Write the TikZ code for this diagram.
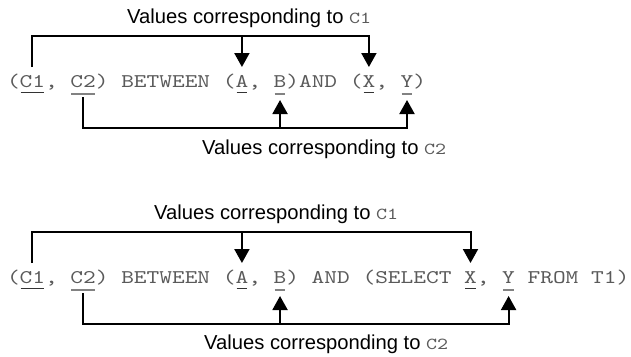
\documentclass[tikz,border=0pt]{standalone}
\usepackage{fontspec}
\setmainfont{Liberation Sans}
\newfontfamily\codefont[FakeStretch=1.25]{lmmono10-regular.otf}
\usetikzlibrary{arrows.meta}
\definecolor{codegray}{RGB}{90,90,90}
\definecolor{ulgray}{RGB}{130,130,130}
\newcommand{\codesize}{\codefont\fontsize{19.35}{22}\selectfont}
\newcommand{\lblcode}[1]{{\codefont\fontsize{16.8}{19}\selectfont\color{codegray}#1}}
% one monospaced blank cell that survives at the end of a node
\newcommand{\cell}{\phantom{x}}

\begin{document}
\begin{tikzpicture}[x=1pt,y=-1pt,
  code/.style={font=\codesize, text=codegray, inner sep=0pt, outer sep=0pt, anchor=base west},
  lbl/.style={font=\fontsize{20.2}{24}\selectfont, inner sep=0pt, anchor=base west},
  arr/.style={line width=2pt, -{Triangle[length=14pt,width=15pt]}},
  thinul/.style={line width=1pt, draw=black!80},
  thickul/.style={line width=2pt, draw=ulgray}]
\useasboundingbox (0,0) rectangle (631,356);

% ---------- first predicate ----------
\node[code] (p1o) at (7,87) {(};
\node[code] (p1c1) at (p1o.base east) {C1};
\node[code] (p1s1) at (p1c1.base east) {,\cell};
\node[code] (p1c2) at (p1s1.base east) {C2};
\node[code] (p1s2) at (p1c2.base east) {)~BETWEEN~(};
\node[code] (p1a) at (p1s2.base east) {A};
\node[code] (p1s3) at (p1a.base east) {,\cell};
\node[code] (p1b) at (p1s3.base east) {B};
\node[code] (p1s4) at (p1b.base east) {)AND~(};
\node[code] (p1x) at (p1s4.base east) {X};
\node[code] (p1s5) at (p1x.base east) {,\cell};
\node[code] (p1y) at (p1s5.base east) {Y};
\node[code] (p1s6) at (p1y.base east) {)};

\foreach \n in {p1c1,p1a,p1x}
  \draw[thinul] ([xshift=1pt,yshift=-5.7pt]\n.base west) -- ([xshift=-1pt,yshift=-5.7pt]\n.base east);
\foreach \n in {p1c2,p1b,p1y}
  \draw[thickul] ([xshift=1pt,yshift=-7pt]\n.base west) -- ([xshift=-1pt,yshift=-7pt]\n.base east);

\coordinate (bar1t) at (0,35.7);
\coordinate (bar1b) at (0,127.7);

\draw[arr] ([yshift=20pt]p1c1.base) -- (p1c1.base |- bar1t) -| ([yshift=20pt]p1x.base);
\draw[arr] (p1a.base |- bar1t) -- ([yshift=20pt]p1a.base);
\draw[arr] ([yshift=-10pt]p1c2.base) -- (p1c2.base |- bar1b) -| ([yshift=-13pt]p1y.base);
\draw[arr] (p1b.base |- bar1b) -- ([yshift=-13pt]p1b.base);

\node[lbl] (l1t) at (127,23.5) {Values corresponding to \lblcode{C1}};
\node[lbl] (l1b) at (202,154) {Values corresponding to \lblcode{C2}};

% ---------- second predicate (subquery) ----------
\node[code] (p2o) at (7,283) {(};
\node[code] (p2c1) at (p2o.base east) {C1};
\node[code] (p2s1) at (p2c1.base east) {,\cell};
\node[code] (p2c2) at (p2s1.base east) {C2};
\node[code] (p2s2) at (p2c2.base east) {)~BETWEEN~(};
\node[code] (p2a) at (p2s2.base east) {A};
\node[code] (p2s3) at (p2a.base east) {,\cell};
\node[code] (p2b) at (p2s3.base east) {B};
\node[code] (p2s4) at (p2b.base east) {)~AND~(SELECT\cell};
\node[code] (p2x) at (p2s4.base east) {X};
\node[code] (p2s5) at (p2x.base east) {,\cell};
\node[code] (p2y) at (p2s5.base east) {Y};
\node[code] (p2s6) at (p2y.base east) {~FROM~T1)};

\foreach \n in {p2c1,p2a,p2x}
  \draw[thinul] ([xshift=1pt,yshift=-5.7pt]\n.base west) -- ([xshift=-1pt,yshift=-5.7pt]\n.base east);
\foreach \n in {p2c2,p2b,p2y}
  \draw[thickul] ([xshift=1pt,yshift=-7pt]\n.base west) -- ([xshift=-1pt,yshift=-7pt]\n.base east);

\coordinate (bar2t) at (0,231.5);
\coordinate (bar2b) at (0,324);

\draw[arr] ([yshift=20pt]p2c1.base) -- (p2c1.base |- bar2t) -| ([yshift=20pt]p2x.base);
\draw[arr] (p2a.base |- bar2t) -- ([yshift=20pt]p2a.base);
\draw[arr] ([yshift=-10pt]p2c2.base) -- (p2c2.base |- bar2b) -| ([yshift=-13pt]p2y.base);
\draw[arr] (p2b.base |- bar2b) -- ([yshift=-13pt]p2b.base);

\node[lbl] (l2t) at (154,219) {Values corresponding to \lblcode{C1}};
\node[lbl] (l2b) at (204,349) {Values corresponding to \lblcode{C2}};
\end{tikzpicture}
\end{document}
